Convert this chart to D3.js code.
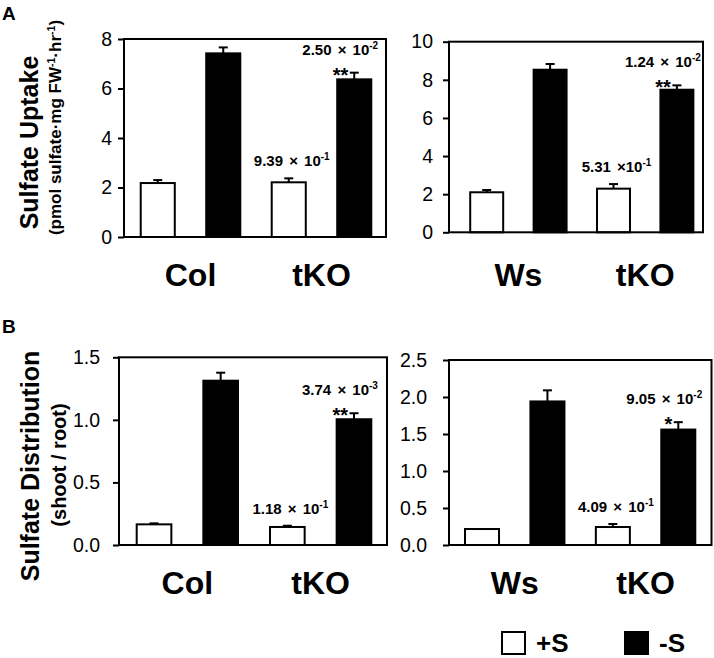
<!DOCTYPE html>
<html><head><meta charset="utf-8">
<script src="https://cdn.jsdelivr.net/npm/d3@7"></script>
<style>
body{margin:0;background:#fff}
svg{display:block}
text{font-family:"Liberation Sans",Arial,Helvetica,sans-serif}
</style>
</head><body>
<svg id="chart" width="714" height="658"></svg>
<script>
// ---------- data ----------
const categoriesLeft = ["Col", "tKO"];
const categoriesRight = ["Ws", "tKO"];
const conditions = ["+S", "-S"];

const uptakeTicksLeft = [0, 2, 4, 6, 8];
const uptakeTicksRight = [0, 2, 4, 6, 8, 10];
const distTicksLeft = [0, 0.5, 1.0, 1.5];
const distTicksRight = [0, 0.5, 1.0, 1.5, 2.0, 2.5];

// Sulfate uptake, Col / tKO
const uptakeLeftPlusS = [2.18, 2.21];
const uptakeLeftPlusSErr = [0.12, 0.16];
const uptakeLeftMinusS = [7.42, 6.37];
const uptakeLeftMinusSErr = [0.24, 0.27];
const uptakeLeftPText = ["9.39 \u00d7 10", "2.50 \u00d7 10"];   // tKO +S, tKO -S
const uptakeLeftPExp = ["-1", "-2"];
const uptakeLeftStars = ["", "**"];

// Sulfate uptake, Ws / tKO
const uptakeRightPlusS = [2.10, 2.29];
const uptakeRightPlusSErr = [0.12, 0.24];
const uptakeRightMinusS = [8.53, 7.48];
const uptakeRightMinusSErr = [0.30, 0.23];
const uptakeRightPText = ["5.31 \u00d710", "1.24 \u00d7 10"];
const uptakeRightPExp = ["-1", "-2"];
const uptakeRightStars = ["", "**"];

// Sulfate distribution, Col / tKO
const distLeftPlusS = [0.165, 0.144];
const distLeftPlusSErr = [0.008, 0.010];
const distLeftMinusS = [1.313, 1.005];
const distLeftMinusSErr = [0.064, 0.048];
const distLeftPText = ["1.18 \u00d7 10", "3.74 \u00d7 10"];
const distLeftPExp = ["-1", "-3"];
const distLeftStars = ["", "**"];

// Sulfate distribution, Ws / tKO
const distRightPlusS = [0.216, 0.243];
const distRightPlusSErr = [0.0, 0.041];
const distRightMinusS = [1.94, 1.56];
const distRightMinusSErr = [0.15, 0.10];
const distRightPText = ["4.09 \u00d7 10", "9.05 \u00d7 10"];
const distRightPExp = ["-1", "-2"];
const distRightStars = ["", "*"];

// ---------- layout ----------
const svg = d3.select("#chart");
const FONT = '"Liberation Sans",Arial,Helvetica,sans-serif';

function drawPanel(cfg) {
  const g = svg.append("g");
  const y = d3.scaleLinear().domain(cfg.domain).range([cfg.frame.y1, cfg.frame.y0]);
  const xo = d3.scaleBand().domain(cfg.cats).range(cfg.barRange);
  const xi = d3.scaleBand().domain(conditions).range([0, xo.bandwidth()])
    .paddingInner(0.48).paddingOuter(0.24);

  // axis ticks
  const ax = g.append("g").attr("transform", `translate(${cfg.frame.x0},0)`)
    .call(d3.axisLeft(y).tickValues(cfg.ticks).tickFormat(cfg.fmt)
      .tickSize(6).tickSizeOuter(0).tickPadding(cfg.tickPad));
  ax.select(".domain").remove();
  ax.selectAll("line").attr("stroke", "#000").attr("stroke-width", 2);
  ax.selectAll("text").attr("font-family", FONT).attr("font-size", 19.5).attr("fill", "#000");

  // bars
  const rows = [];
  cfg.cats.forEach((c, i) => {
    rows.push({cat: c, cond: "+S", i, v: cfg.plus[i], e: cfg.plusErr[i]});
    rows.push({cat: c, cond: "-S", i, v: cfg.minus[i], e: cfg.minusErr[i]});
  });
  const cx = d => xo(d.cat) + xi(d.cond) + xi.bandwidth() / 2;

  // error bars
  const eb = g.selectAll(".eb").data(rows.filter(d => d.e > 0)).enter().append("g");
  eb.append("line").attr("x1", cx).attr("x2", cx)
    .attr("y1", d => y(d.v)).attr("y2", d => y(d.v + d.e))
    .attr("stroke", "#000").attr("stroke-width", 2);
  eb.append("line").attr("x1", d => cx(d) - 4.5).attr("x2", d => cx(d) + 4.5)
    .attr("y1", d => y(d.v + d.e)).attr("y2", d => y(d.v + d.e))
    .attr("stroke", "#000").attr("stroke-width", 2);

  g.selectAll(".bar").data(rows).enter().append("rect")
    .attr("x", d => xo(d.cat) + xi(d.cond))
    .attr("width", xi.bandwidth())
    .attr("y", d => y(d.v))
    .attr("height", d => y(0) - y(d.v))
    .attr("fill", d => d.cond === "+S" ? "#fff" : "#000")
    .attr("stroke", "#000").attr("stroke-width", 2);

  // frame
  g.append("rect").attr("x", cfg.frame.x0).attr("y", cfg.frame.y0)
    .attr("width", cfg.frame.x1 - cfg.frame.x0).attr("height", cfg.frame.y1 - cfg.frame.y0)
    .attr("fill", "none").attr("stroke", "#000").attr("stroke-width", 2);

  // p-value labels for tKO group (index 1)
  const tk = rows.filter(d => d.i === 1);
  tk.forEach((d, k) => {
    const top = y(d.v + d.e);
    const isPlus = d.cond === "+S";
    const t = g.append("text")
      .attr("x", isPlus ? cx(d) + 3 : cx(d) - 14)
      .attr("y", isPlus ? top - 12 : top - 18)
      .attr("text-anchor", "middle")
      .attr("font-size", 15).attr("font-weight", "bold")
      .attr("word-spacing", 2);
    t.append("tspan").text(cfg.pText[k]);
    t.append("tspan").attr("font-size", 10).attr("dy", -6).text(cfg.pExp[k]);
    if (cfg.stars[k]) {
      g.append("text").attr("x", cx(d) - 6).attr("y", top + 9)
        .attr("text-anchor", "end").attr("font-size", 20).attr("font-weight", "bold")
        .text(cfg.stars[k]);
    }
  });

  // category labels
  g.selectAll(".cat").data(cfg.cats).enter().append("text")
    .attr("x", d => xo(d) + xo.bandwidth() / 2)
    .attr("y", cfg.catY)
    .attr("text-anchor", "middle")
    .attr("font-size", 32).attr("font-weight", "bold")
    .text(d => d);
}

const fmtInt = d3.format("d");
const fmt1 = d3.format(".1f");

drawPanel({cats: categoriesLeft, plus: uptakeLeftPlusS, plusErr: uptakeLeftPlusSErr,
  minus: uptakeLeftMinusS, minusErr: uptakeLeftMinusSErr, pText: uptakeLeftPText,
  pExp: uptakeLeftPExp, stars: uptakeLeftStars, ticks: uptakeTicksLeft, fmt: fmtInt,
  domain: [0, 8], frame: {x0: 124, x1: 386, y0: 39, y1: 237}, barRange: [125, 387],
  tickPad: 6, catY: 286});

drawPanel({cats: categoriesRight, plus: uptakeRightPlusS, plusErr: uptakeRightPlusSErr,
  minus: uptakeRightMinusS, minusErr: uptakeRightMinusSErr, pText: uptakeRightPText,
  pExp: uptakeRightPExp, stars: uptakeRightStars, ticks: uptakeTicksRight, fmt: fmtInt,
  domain: [0, 10], frame: {x0: 449, x1: 703, y0: 41.7, y1: 232.3}, barRange: [455, 708.6],
  tickPad: 10, catY: 286});

drawPanel({cats: categoriesLeft, plus: distLeftPlusS, plusErr: distLeftPlusSErr,
  minus: distLeftMinusS, minusErr: distLeftMinusSErr, pText: distLeftPText,
  pExp: distLeftPExp, stars: distLeftStars, ticks: distTicksLeft, fmt: fmt1,
  domain: [0, 1.5], frame: {x0: 119, x1: 387, y0: 357.3, y1: 545}, barRange: [120.7, 387.3],
  tickPad: 13, catY: 594});

drawPanel({cats: categoriesRight, plus: distRightPlusS, plusErr: distRightPlusSErr,
  minus: distRightMinusS, minusErr: distRightMinusSErr, pText: distRightPText,
  pExp: distRightPExp, stars: distRightStars, ticks: distTicksRight, fmt: fmt1,
  domain: [0, 2.5], frame: {x0: 449, x1: 711.5, y0: 360, y1: 545}, barRange: [449.3, 711],
  tickPad: 16, catY: 594});

// y-axis titles
function yTitle(x, y, size, parts) {
  const t = svg.append("text").attr("transform", `translate(${x},${y}) rotate(-90)`)
    .attr("text-anchor", "middle").attr("font-weight", "bold").attr("font-size", size);
  parts.forEach(p => {
    const s = t.append("tspan").text(p[0]);
    if (p[1]) s.attr("font-size", size * 0.62).attr("dy", -size * 0.38);
    else if (p[2]) s.attr("dy", size * 0.38);
  });
}
yTitle(38, 142.5, 25, [["Sulfate Uptake"]]);
yTitle(61, 127.5, 17, [["(pmol sulfate\u00b7mg FW"], ["-1", true], ["\u00b7hr", false, true], ["-1", true], [")", false, true]]);
yTitle(39, 466, 25, [["Sulfate Distribution"]]);
yTitle(66, 465, 20, [["(shoot / root)"]]);

// panel letters
svg.append("text").attr("x", 2).attr("y", 20).attr("font-size", 19).attr("font-weight", "bold").text("A");
svg.append("text").attr("x", 2).attr("y", 333).attr("font-size", 19).attr("font-weight", "bold").text("B");

// legend
const legX = [502, 625];
const lg = svg.selectAll(".leg").data(conditions).enter().append("g")
  .attr("transform", (d, i) => `translate(${legX[i]},632)`);
lg.append("rect").attr("width", 23).attr("height", 22)
  .attr("fill", d => d === "+S" ? "#fff" : "#000").attr("stroke", "#000").attr("stroke-width", 2);
lg.append("text").attr("x", 34).attr("y", 20).attr("font-size", 26).attr("font-weight", "bold")
  .text(d => d);
</script>
</body></html>
